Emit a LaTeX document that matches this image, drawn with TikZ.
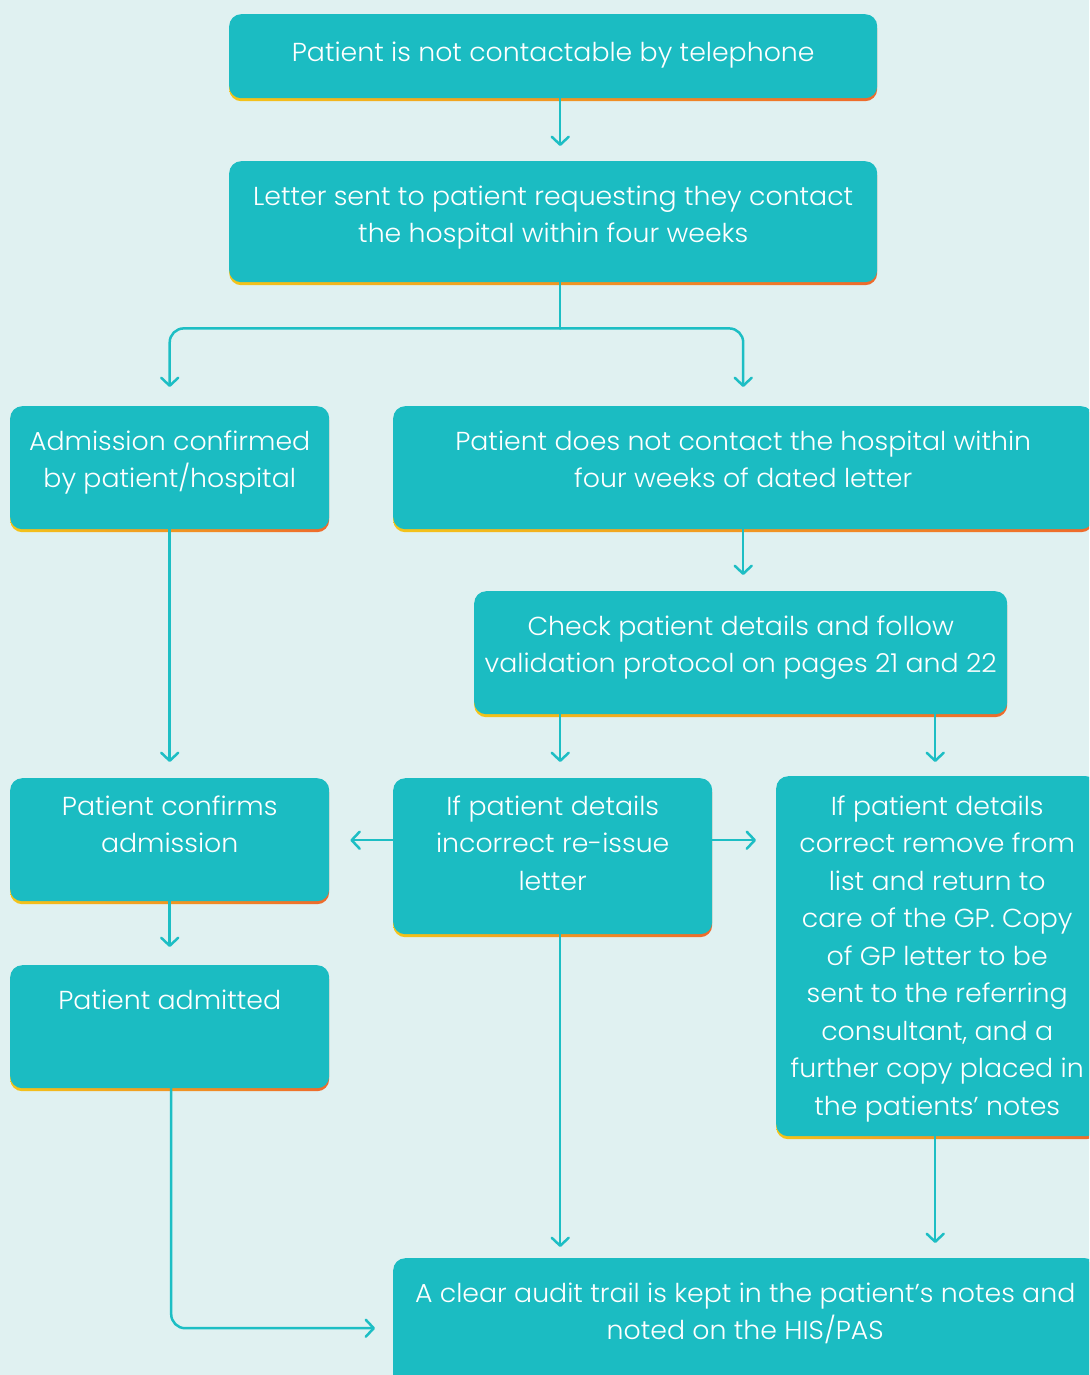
\documentclass[tikz,border=0pt]{standalone}
\usepackage{fontspec}
\setmainfont{Poppins}[UprightFont={* Light},FakeStretch=1.03]
\usetikzlibrary{arrows.meta}
\definecolor{bg}{HTML}{E0F1F1}
\definecolor{tealbox}{HTML}{1BBCC2}
\definecolor{arrowc}{HTML}{1DBEC4}
\definecolor{shY}{HTML}{F3C41A}
\definecolor{shO}{HTML}{EE6A2C}
\newcommand\ctl[1]{\makebox[\linewidth]{#1}}
\newcommand\boxtxt[4]{\parbox[c][#2][t]{#1}{\noindent\rule{0pt}{#3}#4}}
\begin{document}
\begin{tikzpicture}[x=1pt,y=-1pt,
 box/.style={fill=tealbox, rounded corners=12pt, inner sep=0pt, anchor=north west,
   text=white, font=\fontsize{26}{37.5}\selectfont,
   preaction={left color=shY, right color=shO, transform canvas={yshift=-3pt}}},
 arr/.style={draw=arrowc, line width=2.5pt, line cap=round,
   -{Straight Barb[length=8pt,width=17pt,line cap=round,line join=round]}},
]
\fill[bg] (0,0) rectangle (1089,1375);
\useasboundingbox (0,0) rectangle (1089,1375);
\clip (0,0) rectangle (1089,1375);

\node[box] (b1) at (229,14) {\boxtxt{648pt}{84pt}{47pt}{\ctl{Patient is not contactable by telephone}}};
\node[box] (b2) at (229,161) {\boxtxt{648pt}{121pt}{44pt}{\ctl{Letter sent to patient requesting they contact}\\\ctl{the hospital within four weeks}}};
\node[box] (b3) at (10,406) {\boxtxt{319pt}{123pt}{44pt}{\ctl{Admission confirmed}\\\ctl{by patient/hospital}}};
\node[box] (b4) at (393,406) {\boxtxt{700pt}{123pt}{44pt}{\ctl{Patient does not contact the hospital within}\\\ctl{four weeks of dated letter}}};
\node[box] (b5) at (474,591) {\boxtxt{533pt}{123pt}{44pt}{\ctl{Check patient details and follow}\\\ctl{validation protocol on pages 21 and 22}}};
\node[box] (b6) at (10,778) {\boxtxt{319pt}{123pt}{37pt}{\ctl{Patient confirms}\\\ctl{admission}}};
\node[box] (b7) at (393,778) {\boxtxt{319pt}{156pt}{37pt}{\ctl{If patient details}\\\ctl{incorrect re-issue}\\\ctl{letter}}};
\node[box] (b8) at (776,776) {\boxtxt{322pt}{360pt}{39pt}{\ctl{If patient details}\\\ctl{correct remove from}\\\ctl{list and return to}\\\ctl{care of the GP. Copy}\\\ctl{of GP letter to be}\\\ctl{sent to the referring}\\\ctl{consultant, and a}\\\ctl{further copy placed in}\\\ctl{the patients’ notes}}};
\node[box] (b9) at (10,965) {\boxtxt{319pt}{123pt}{44pt}{\ctl{Patient admitted}}};
\node[box] (b10) at (393,1258) {\boxtxt{704pt}{140pt}{44pt}{\ctl{A clear audit trail is kept in the patient’s notes and}\\\ctl{noted on the HIS/PAS}}};

% connectors
\draw[arr, shorten >=15pt] ([xshift=7pt]b1.south) -- ([xshift=7pt]b1.south |- b2.north);
\coordinate (j1) at ([xshift=7pt,yshift=-46pt]b2.south);
\draw[draw=arrowc, line width=2.5pt, line cap=round] ([xshift=7pt]b2.south) -- (j1);
\draw[arr, rounded corners=14pt, shorten >=19pt] (j1) -| (b3.north);
\draw[arr, rounded corners=14pt, shorten >=19pt] (j1) -| (b4.north);
\draw[arr, shorten >=16pt] (b3.south) -- (b6.north);
\draw[arr, shorten >=16pt] (b4.south) -- (b4.south |- b5.north);
\draw[arr, shorten >=16pt] ([xshift=7.5pt]b7.north |- b5.south) -- ([xshift=7.5pt]b7.north);
\draw[arr, shorten >=14pt] ([xshift=-2pt]b8.north |- b5.south) -- ([xshift=-2pt]b8.north);
\draw[arr, shorten >=21pt] ([yshift=16pt]b7.west) -- ([yshift=16pt]b7.west -| b6.east);
\draw[arr, shorten >=20pt] ([yshift=16pt]b7.east) -- ([yshift=16pt]b7.east -| b8.west);
\draw[arr, shorten >=18pt] (b6.south) -- (b9.north);
\draw[arr, rounded corners=14pt, shorten >=18pt] ([xshift=1.5pt]b9.south) |- (b10.west);
\draw[arr, shorten >=11pt] ([xshift=7.5pt]b7.south) -- ([xshift=7.5pt]b7.south |- b10.north);
\draw[arr, shorten >=15pt] ([xshift=-2pt]b8.south) -- ([xshift=-2pt]b8.south |- b10.north);
\end{tikzpicture}
\end{document}
